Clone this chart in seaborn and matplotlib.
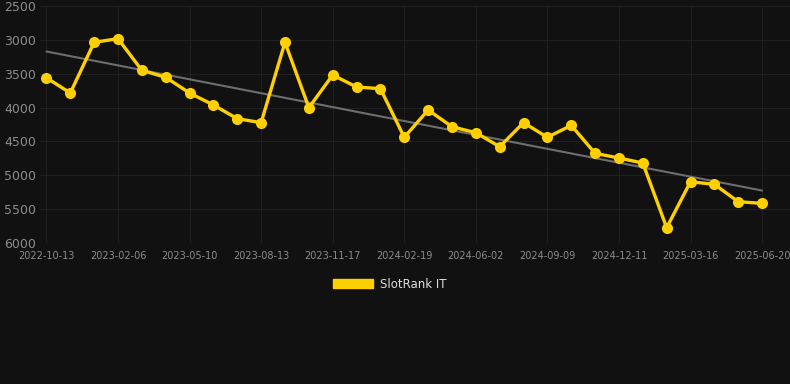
import numpy as np
import pandas as pd
import matplotlib
matplotlib.use("Agg")
import matplotlib.pyplot as plt
from matplotlib.patches import Patch
import seaborn as sns

# --- data ---
rank = [3560, 3785, 3036, 2983, 3450, 3553, 3785, 3962, 4164, 4223,
        3036, 4002, 3519, 3696, 3721, 4439, 4036, 4283, 4371, 4578,
        4223, 4439, 4263, 4676, 4745, 4819, 5774, 5095, 5134, 5390, 5415]
tick_labels = ["2022-10-13", "2023-02-06", "2023-05-10", "2023-08-13", "2023-11-17",
               "2024-02-19", "2024-06-02", "2024-09-09", "2024-12-11", "2025-03-16",
               "2025-06-20"]
series_name = "SlotRank IT"
y_ticks = [2500, 3000, 3500, 4000, 4500, 5000, 5500, 6000]

period = np.arange(len(rank))
df = pd.DataFrame({"period": period, "rank": rank})

bg = "#111111"
gold = "#FFD000"

sns.set_theme(style="dark")
plt.rcParams["font.family"] = ["DejaVu Sans"]

fig = plt.figure(figsize=(7.9, 3.84), dpi=100, facecolor=bg)
ax = fig.add_axes([40 / 790, 1 - 243 / 384, 750 / 790, 237 / 384])
ax.set_facecolor(bg)

# trend line (least squares fit)
coef = np.polyfit(period, rank, 1)
trend = np.polyval(coef, period)
ax.plot(period, trend, color="#6e6e6e", lw=1.5, zorder=2)

sns.lineplot(data=df, x="period", y="rank", ax=ax, color=gold, lw=2.4,
             marker="o", markersize=8, markeredgewidth=0, zorder=3, legend=False)

ax.set_xlim(-0.27, 31.17)
ax.set_ylim(6000, 2500)
ax.set_yticks(y_ticks)
ax.set_yticklabels([str(v) for v in y_ticks])
ax.set_xticks(period[::3])
ax.set_xticklabels(tick_labels)
ax.set_xlabel("")
ax.set_ylabel("")

ax.grid(True, color="#1f1f1f", lw=0.8)
for s in ax.spines.values():
    s.set_visible(False)
ax.tick_params(axis="y", colors="#8c8c8c", labelsize=9, length=0, pad=3)
ax.tick_params(axis="x", colors="#8c8c8c", labelsize=7, length=0, pad=6)

fig.legend(handles=[Patch(facecolor=gold, edgecolor=gold, label=series_name)],
           loc="center", bbox_to_anchor=(390 / 790, 1 - 284 / 384),
           frameon=False, fontsize=8.5, labelcolor="#dddddd",
           handlelength=3.4, handleheight=0.9, handletextpad=0.6)

fig.savefig("out.png", dpi=100, facecolor=bg)
